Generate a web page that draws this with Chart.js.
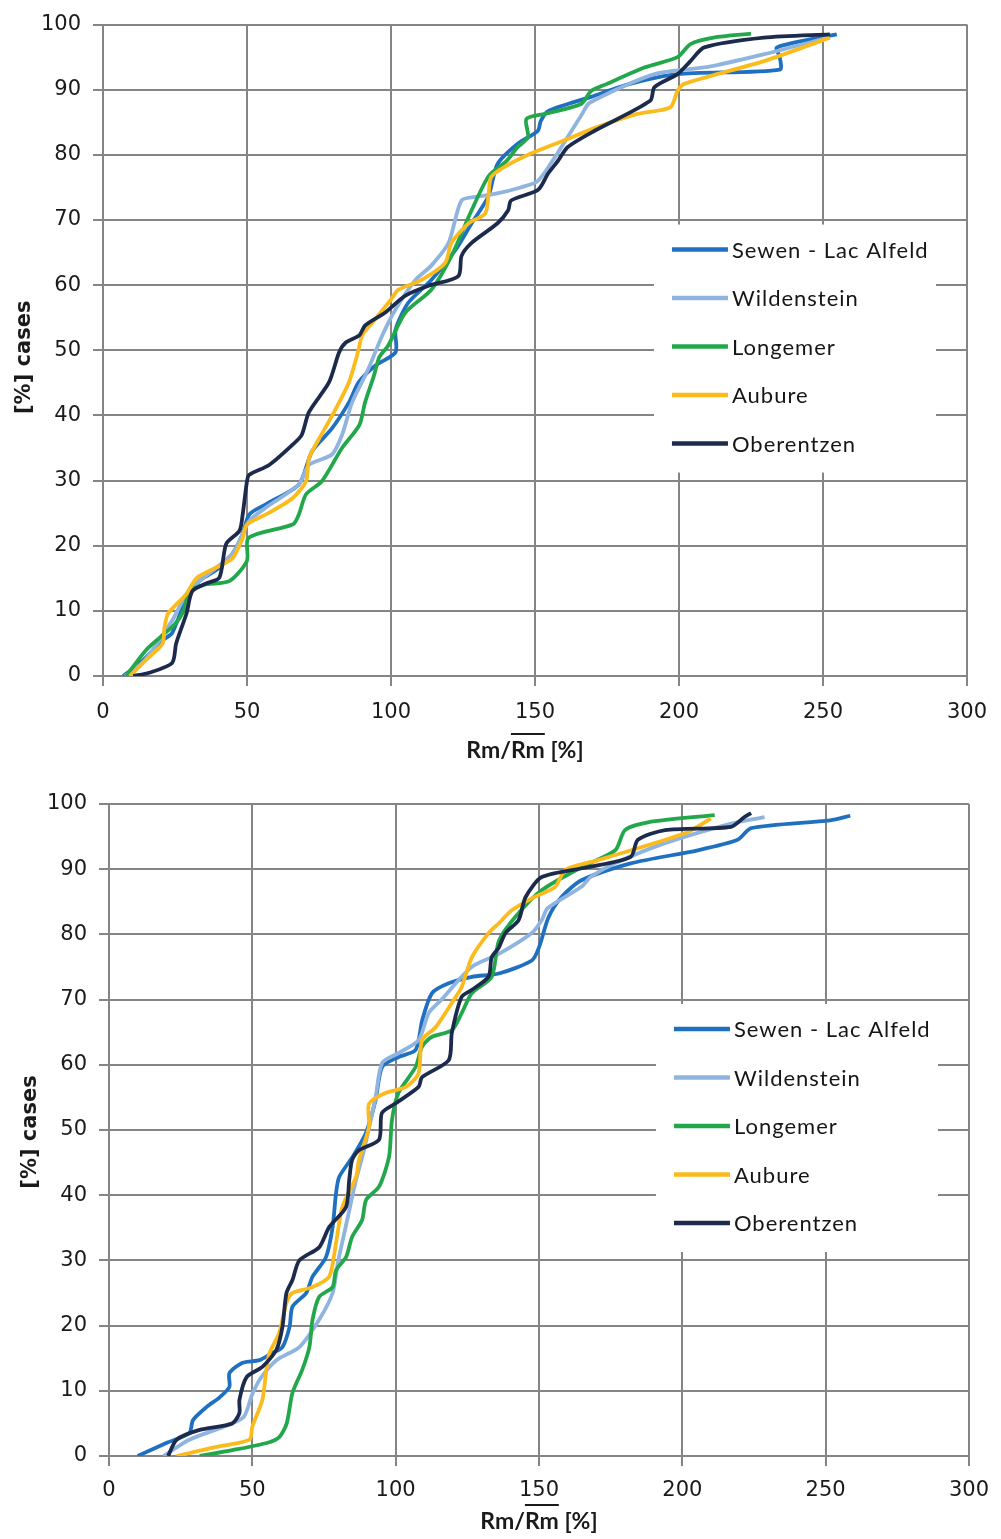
<!DOCTYPE html>
<html>
<head>
<meta charset="utf-8">
<script src="https://cdn.jsdelivr.net/npm/chart.js@4.4.1/dist/chart.umd.min.js"></script>
<style>
  body { margin: 0; background: #fff; }
  canvas { display: block; }
</style>
</head>
<body>
<canvas id="chartTop" width="1001" height="770"></canvas>
<canvas id="chartBottom" width="1001" height="769"></canvas>
<script>
// series names, in legend order
const seriesNames = ['Sewen - Lac Alfeld', 'Wildenstein', 'Longemer', 'Aubure', 'Oberentzen'];

// axis ticks
const xTicks = [0, 50, 100, 150, 200, 250, 300];
const yTicks = [0, 10, 20, 30, 40, 50, 60, 70, 80, 90, 100];

// top chart: [Rm/mean Rm %, % cases]
const topSewen = [[7,0],[13.9,2.4],[20.7,5.5],[24,6.6],[29,12],[33.5,14.6],[40.4,16.6],[45,18.8],[48.5,21.8],[50.8,24.8],[56.7,26.4],[68,29.4],[72.6,34.5],[79.5,38],[85.4,42],[88.8,45.1],[94.7,47.7],[101.6,49.7],[101.6,53.2],[106,57.3],[114,60.8],[122.4,65.4],[128,69.5],[133.8,73.6],[137,78.6],[144,81.7],[151,83.7],[152,85.2],[154.5,86.7],[169.4,88.9],[183,90.9],[199.5,92.4],[235,93.1],[235,95],[234,96.5],[254.8,98.5]];
const topWildenstein = [[7.6,0],[14.5,2.4],[24,8.5],[29,12.6],[33.5,14.6],[45,18.8],[50.8,23.8],[56.7,25.9],[68,29.4],[71.5,32.4],[79.5,34],[83,37],[86.5,42],[92,47],[97,52.3],[101.6,56.3],[108.5,60.8],[114,63],[120,66.5],[124.5,73],[130,73.6],[136,74],[145,75],[151,76],[157,79.7],[166,86],[169,88],[191.5,92.4],[210,93.5],[230,95.5],[252,98]];
const topLongemer = [[8,0],[15,4],[20,6],[25,8],[28,10],[30,13],[35,14],[44,14.6],[50,17.7],[50.5,21.2],[66,23.3],[68,24.8],[70.5,27.9],[76,29.9],[83,35],[89,38.5],[91,42],[94,46],[96,49],[99,50.7],[105,55.8],[114,59.3],[121,64.5],[128,71.5],[134,76.8],[140,79],[144,81.2],[147.6,82.7],[147,85.5],[153.5,86.3],[166,87.8],[169.5,89.8],[175,90.9],[188,93.4],[199.5,95],[204,97],[212,98],[225,98.6]];
const topAubure = [[9.3,0],[15,2.5],[20.7,5],[21.3,7.3],[22.6,9.6],[29,12.6],[32.4,15],[39,16.6],[45,18.1],[48.5,21.2],[50,23.3],[56.6,24.8],[65.8,27.3],[70.5,29.9],[71.5,33.4],[75,36.4],[79.6,40],[85.4,45.1],[88.8,50.2],[90,52.3],[94.6,54.8],[100,57.8],[102.6,59.3],[110.6,60.8],[118.8,63.4],[121,66.5],[127,69.5],[132.7,71],[133.8,73.6],[134.8,76.6],[140,78.3],[148.6,80.2],[160,82.2],[171.8,84.3],[185.6,86.3],[197,87.3],[199.5,89.8],[201.8,90.9],[229.5,94.4],[252.4,98]];
const topOberentzen = [[10.5,0],[16,0.5],[24,2],[25.4,5],[29,9.6],[31,13],[35.8,14.2],[40.4,15.1],[42.8,20.3],[47.4,22.3],[48.5,24.8],[50,29.9],[50.8,30.9],[57.7,32.4],[65.8,35.5],[69,37],[71.5,40.5],[78.5,45.1],[82,49.7],[84.3,51.2],[89,52.3],[91,53.8],[98,55.8],[105,58.4],[113,59.9],[123.4,61.4],[124.5,64.5],[128,66.5],[137,69.5],[140.7,71.5],[141.7,73],[151,74.6],[154.5,77.1],[158,79.1],[161.4,81.2],[170.7,83.7],[190,88.3],[191.5,90.4],[199.5,92.4],[204,94.4],[208.8,96.5],[229.5,98],[252.4,98.5]];

// bottom chart
const botSewen = [[10,0],[20,2],[28,3.5],[29.3,5.5],[34,7.5],[38.6,9],[42,10.6],[42,12.7],[46.6,14.3],[52.5,14.7],[57,15.8],[60.5,16.7],[63,19.8],[64,22.9],[68.8,25],[71,27.5],[75.7,30.5],[78,35.1],[79.2,40.3],[80.3,42.8],[85,45.9],[89.6,49.5],[93,54.6],[95.3,59.7],[101,61.2],[107,62.3],[109.3,66.9],[112.7,71],[118.5,72.5],[126.6,73.5],[136,74],[147.5,76],[150,78],[153.3,82.6],[157.8,85.7],[164.8,88.3],[182,90.9],[205.4,92.9],[219.3,94.5],[224,96.3],[251.6,97.5],[258.6,98.2]];
const botWildenstein = [[19,0],[28,2.5],[40,4.5],[47,6],[50,9.5],[53,12],[58.4,14.7],[66.4,16.7],[73.3,20.9],[78,25],[80,30],[83,36],[86,42],[89,47],[93,55],[95.3,60.3],[101,61.8],[108,63.8],[111.6,68],[116,70],[126.5,75],[136,77],[147.5,80.2],[151,82.2],[153,84],[164.8,87.3],[168,88.8],[176.5,90.9],[194,94],[217,97],[228.7,98]];
const botLongemer = [[31.6,0],[43,0.9],[55,2],[59.4,2.9],[62,5],[64,9.7],[67.4,13.2],[69.9,16.7],[71,20.9],[73.3,24.4],[78,25.9],[79.2,28.5],[82.7,30.5],[84.8,33.6],[88.3,36.2],[89.7,39.3],[94.2,41.3],[97.7,45.9],[98.7,51.5],[101,55.7],[107,59.7],[109.2,62.8],[112.7,64.3],[119.6,65.3],[123,67.9],[126.6,71],[133.5,73.5],[136,79],[141.8,82.7],[151,86.8],[164.8,90.3],[176.6,92.9],[180,96],[188,97.2],[211.3,98.3]];
const botAubure = [[23.6,0],[37.5,1.4],[49,2.5],[50,4.5],[53.5,8.6],[54.9,13.2],[56,15.8],[59.4,18.9],[61.9,23.5],[64,25],[71,25.9],[76.8,27.5],[79.2,32.7],[81.4,38.2],[86.2,42.8],[87.2,45.4],[90.7,50.5],[90.7,54],[96.6,55.7],[103.6,56.6],[108,58.7],[109.2,63.8],[114,65.8],[119.6,69.5],[123,71.9],[126.6,76.5],[132.4,80.2],[136,81.7],[140.5,83.7],[148.7,85.8],[155.7,87.3],[159.2,89.9],[170.7,91.4],[200.9,95.5],[210,97.8]];
const botOberentzen = [[20.6,0],[23.6,2.5],[31.6,4],[43,5],[45.5,6.6],[45.5,8.6],[48,12.1],[53.6,13.7],[58.4,16.3],[60.5,19.8],[61.9,25],[64,27],[66.4,30],[73.3,32],[76.8,35.1],[82.7,38.2],[83.8,42.3],[84.8,45.4],[87.2,46.9],[94.2,48.5],[95.2,52.6],[100,54.1],[108,56.6],[109.2,58.1],[118.5,60.7],[119.6,64.9],[123,70.4],[126.6,71.5],[132.4,73.5],[133.5,76.5],[136,78],[138.3,80.2],[142.9,82.2],[145.3,85.7],[151,88.8],[167,90.3],[182,91.9],[184.5,94.5],[194,96],[217,96.5],[221.7,98],[224,98.6]];

const seriesColors = ['#1f70c1', '#8fb4e0', '#22a84b', '#fbbb1c', '#1c2a4c'];
const gridColor = '#858585';
const tickFont = { family: 'DejaVu Sans', size: 21 };

// legend box + axis titles (x title has an overline on the second Rm)
const decorPlugin = {
    id: 'decor',
    afterDatasetsDraw(chart) {
        const ctx = chart.ctx;
        const a = chart.chartArea;
        ctx.save();
        ctx.fillStyle = '#fff';
        ctx.fillRect(a.right - 313, a.top + 200, 282, 248);
        ctx.font = '22px Lato';
        ctx.letterSpacing = '1px';
        ctx.textAlign = 'left';
        ctx.textBaseline = 'middle';
        chart.data.datasets.forEach((ds, i) => {
            const y = a.top + 225 + i * 48.5;
            ctx.strokeStyle = ds.borderColor;
            ctx.lineWidth = 4.5;
            ctx.beginPath();
            ctx.moveTo(a.right - 295, y);
            ctx.lineTo(a.right - 239, y);
            ctx.stroke();
            ctx.fillStyle = '#161616';
            ctx.fillText(ds.label, a.right - 235, y + 1);
        });
        ctx.restore();
    },
    afterDraw(chart, args, opts) {
        const ctx = chart.ctx;
        const a = chart.chartArea;
        ctx.save();
        ctx.fillStyle = '#1a1a1a';
        // x title
        ctx.font = 'bold 23px Lato';
        const txt = 'Rm/Rm [%]';
        const w = ctx.measureText(txt).width;
        const x0 = (a.left + a.right) / 2 + opts.xdx - w / 2;
        const base = a.bottom + opts.xdy;
        ctx.textAlign = 'left';
        ctx.textBaseline = 'alphabetic';
        ctx.fillText(txt, x0, base);
        const wa = ctx.measureText('Rm/').width;
        const wb = ctx.measureText('Rm').width;
        ctx.fillRect(x0 + wa, base - 25, wb, 2);
        // y title
        ctx.translate(opts.ytx, (a.top + a.bottom) / 2 + opts.ytdy);
        ctx.rotate(-Math.PI / 2);
        ctx.font = 'bold 21px "DejaVu Sans"';
        ctx.textAlign = 'center';
        ctx.textBaseline = 'middle';
        ctx.fillText('[%] cases', 0, 0);
        ctx.restore();
    }
};

function makeChart(id, series, lay) {
    const ctx = document.getElementById(id).getContext('2d');
    return new Chart(ctx, {
        type: 'scatter',
        data: {
            datasets: seriesNames.map((name, i) => ({
                label: name,
                data: series[i].map(p => ({ x: p[0], y: p[1] })),
                showLine: true,
                borderColor: seriesColors[i],
                backgroundColor: seriesColors[i],
                borderWidth: 3.8,
                pointRadius: 0,
                tension: 0.25,
                fill: false,
                order: seriesNames.length - i
            }))
        },
        options: {
            responsive: false,
            animation: false,
            layout: { padding: { top: lay.top, right: lay.right, left: 0, bottom: 0 } },
            scales: {
                x: {
                    type: 'linear',
                    min: 0,
                    max: 300,
                    afterBuildTicks: s => { s.ticks = xTicks.map(v => ({ value: v })); },
                    ticks: { font: tickFont, color: '#1a1a1a', padding: lay.xpad, maxRotation: 0 },
                    grid: { color: gridColor, lineWidth: 2, tickLength: 10, tickColor: gridColor },
                    border: { color: gridColor, width: 2 },
                    afterFit: s => { s.height = lay.xh; }
                },
                y: {
                    min: 0,
                    max: 100,
                    afterBuildTicks: s => { s.ticks = yTicks.map(v => ({ value: v })); },
                    ticks: { font: tickFont, color: '#1a1a1a', padding: 12 },
                    grid: { color: gridColor, lineWidth: 2, tickLength: 10, tickColor: gridColor },
                    border: { color: gridColor, width: 2 },
                    afterFit: s => { s.width = lay.yw; }
                }
            },
            plugins: {
                legend: { display: false },
                tooltip: { enabled: false },
                decor: { xdx: lay.xdx, xdy: lay.xdy, ytx: lay.ytx, ytdy: lay.ytdy }
            }
        },
        plugins: [decorPlugin]
    });
}

makeChart('chartTop', [topSewen, topWildenstein, topLongemer, topAubure, topOberentzen],
    { top: 20, right: 30, yw: 103, xh: 94, xpad: 14, xdx: -10, xdy: 82, ytx: 25, ytdy: 7 });
makeChart('chartBottom', [botSewen, botWildenstein, botLongemer, botAubure, botOberentzen],
    { top: 34, right: 29, yw: 109, xh: 83, xpad: 12, xdx: 0, xdy: 73, ytx: 31, ytdy: 2 });
</script>
</body>
</html>
